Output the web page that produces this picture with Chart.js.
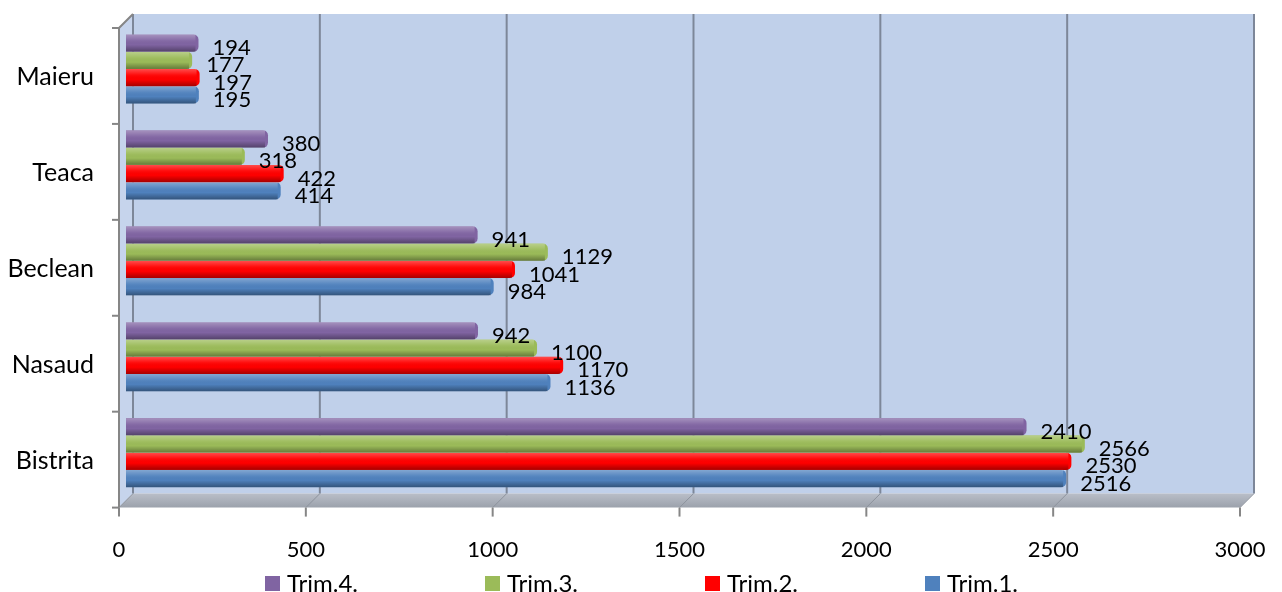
<!DOCTYPE html>
<html>
<head>
<meta charset="utf-8">
<script src="https://cdn.jsdelivr.net/npm/chart.js@4.4.1/dist/chart.umd.min.js"></script>
<style>
  body { margin: 0; background: #fff; }
  #wrap { position: relative; width: 1282px; height: 592px; overflow: hidden; }
  #legend { position: absolute; left: 265px; top: 568px; display: flex; font-family: Lato, sans-serif; }
  .item { width: 220px; display: flex; align-items: center; font-size: 24px; line-height: 30px; color: #000; }
  .box { width: 15px; height: 15px; margin-right: 7px; }
</style>
</head>
<body>
<div id="wrap">
  <canvas id="myChart" width="1282" height="592"></canvas>
  <div id="legend"></div>
</div>
<script>
const categories = ["Maieru", "Teaca", "Beclean", "Nasaud", "Bistrita"]
const trim4 = [194, 380, 941, 942, 2410]
const trim3 = [177, 318, 1129, 1100, 2566]
const trim2 = [197, 422, 1041, 1170, 2530]
const trim1 = [195, 414, 984, 1136, 2516]
const xMax = 3000
const xStep = 500

const series = [
  { label: "Trim.4.", data: trim4, color: "#8064a2" },
  { label: "Trim.3.", data: trim3, color: "#9bbb59" },
  { label: "Trim.2.", data: trim2, color: "#ff0000" },
  { label: "Trim.1.", data: trim1, color: "#4f81bd" }
]

// fake 3d box: chart area is the middle plane, front and back are shifted
const depth = 7

const wallsPlugin = {
  id: "walls",
  beforeDraw(chart) {
    const { ctx, chartArea: a, scales } = chart
    const fx = -depth, fy = depth, bx = depth, by = -depth
    ctx.save()
    // back wall
    ctx.fillStyle = "#c0d0ea"
    ctx.fillRect(a.left + bx, a.top + by, a.right - a.left, a.bottom - a.top)
    // left wall
    ctx.fillStyle = "#c6d4ec"
    ctx.beginPath()
    ctx.moveTo(a.left + fx, a.top + fy)
    ctx.lineTo(a.left + bx, a.top + by)
    ctx.lineTo(a.left + bx, a.bottom + by)
    ctx.lineTo(a.left + fx, a.bottom + fy)
    ctx.closePath()
    ctx.fill()
    // floor
    const g = ctx.createLinearGradient(0, a.bottom + by, 0, a.bottom + fy)
    g.addColorStop(0, "#b9bec8")
    g.addColorStop(1, "#9ba1ab")
    ctx.fillStyle = g
    ctx.beginPath()
    ctx.moveTo(a.left + fx, a.bottom + fy)
    ctx.lineTo(a.right + fx, a.bottom + fy)
    ctx.lineTo(a.right + bx, a.bottom + by)
    ctx.lineTo(a.left + bx, a.bottom + by)
    ctx.closePath()
    ctx.fill()
    // grid lines on back wall + floor
    for (let v = 0; v <= xMax; v += xStep) {
      const px = scales.x.getPixelForValue(v)
      ctx.strokeStyle = "#7d8799"
      ctx.lineWidth = 2
      ctx.beginPath()
      ctx.moveTo(px + bx, a.top + by)
      ctx.lineTo(px + bx, a.bottom + by)
      ctx.stroke()
      ctx.strokeStyle = "#8d939d"
      ctx.lineWidth = 1
      ctx.beginPath()
      ctx.moveTo(px + bx, a.bottom + by)
      ctx.lineTo(px + fx, a.bottom + fy)
      ctx.stroke()
      // front tick
      ctx.strokeStyle = "#868686"
      ctx.lineWidth = 2
      ctx.beginPath()
      ctx.moveTo(px + fx, a.bottom + fy)
      ctx.lineTo(px + fx, a.bottom + fy + 9)
      ctx.stroke()
    }
    // left axis
    ctx.strokeStyle = "#868686"
    ctx.lineWidth = 2
    ctx.beginPath()
    ctx.moveTo(a.left + bx, a.top + by)
    ctx.lineTo(a.left + fx, a.top + fy)
    ctx.lineTo(a.left + fx, a.bottom + fy)
    ctx.stroke()
    const band = (a.bottom - a.top) / categories.length
    for (let i = 0; i <= categories.length; i++) {
      const py = a.top + i * band + fy
      ctx.beginPath()
      ctx.moveTo(a.left + fx - 7, py)
      ctx.lineTo(a.left + fx, py)
      ctx.stroke()
    }
    ctx.restore()
  },
  afterDatasetsDraw(chart) {
    const { ctx } = chart
    ctx.save()
    chart.data.datasets.forEach((ds, di) => {
      const meta = chart.getDatasetMeta(di)
      meta.data.forEach((bar, i) => {
        const top = bar.y - bar.height / 2
        const g = ctx.createLinearGradient(0, top, 0, top + bar.height)
        g.addColorStop(0, "rgba(255,255,255,0.30)")
        g.addColorStop(0.35, "rgba(255,255,255,0.05)")
        g.addColorStop(0.6, "rgba(0,0,0,0)")
        g.addColorStop(1, "rgba(0,0,0,0.35)")
        ctx.fillStyle = g
        ctx.fillRect(bar.base, top, bar.x - bar.base - 3, bar.height)
      })
    })
    ctx.font = "22px Lato"
    ctx.fillStyle = "#000"
    ctx.textAlign = "left"
    ctx.textBaseline = "middle"
    chart.data.datasets.forEach((ds, di) => {
      const meta = chart.getDatasetMeta(di)
      meta.data.forEach((bar, i) => {
        ctx.fillText(String(ds.data[i]), bar.x + 14, bar.y + 5)
      })
    })
    ctx.restore()
  }
}

const myChartRef = document.getElementById("myChart").getContext("2d")
const chart = new Chart(myChartRef, {
  type: "bar",
  data: {
    labels: categories,
    datasets: series.map(s => ({
      label: s.label,
      data: s.data,
      backgroundColor: s.color,
      borderRadius: 5,
      borderSkipped: "start",
      categoryPercentage: 0.72,
      barPercentage: 1.0
    }))
  },
  options: {
    indexAxis: "y",
    responsive: false,
    animation: false,
    layout: { padding: { top: 21, right: 35, bottom: 29, left: 0 } },
    plugins: {
      legend: { display: false },
      tooltip: { enabled: false }
    },
    scales: {
      x: {
        min: 0,
        max: xMax,
        grid: { display: false, tickLength: 36 },
        border: { display: false },
        ticks: {
          stepSize: xStep,
          padding: 0,
          labelOffset: -depth,
          color: "#000",
          font: { family: "Lato", size: 22 },
          callback: v => String(v)
        }
      },
      y: {
        grid: { display: false, tickLength: 26 },
        border: { display: false },
        afterFit: scale => { scale.width = 126 },
        ticks: {
          padding: 6,
          labelOffset: depth + 1,
          color: "#000",
          font: { family: "Lato", size: 25 }
        }
      }
    }
  },
  plugins: [wallsPlugin]
})

// legend below the chart
const legend = document.getElementById("legend")
series.forEach(s => {
  const item = document.createElement("div")
  item.className = "item"
  const box = document.createElement("span")
  box.className = "box"
  box.style.background = s.color
  item.appendChild(box)
  item.appendChild(document.createTextNode(s.label))
  legend.appendChild(item)
})
</script>
</body>
</html>
